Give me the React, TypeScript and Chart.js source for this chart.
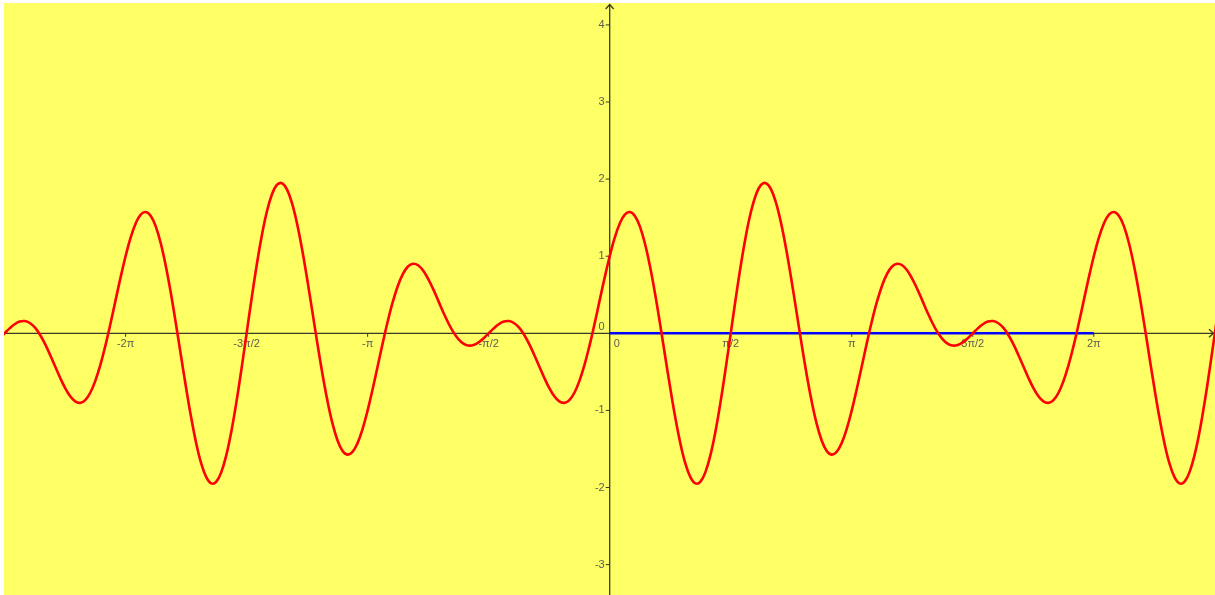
import React, { useEffect, useRef } from "react";
import { Chart, registerables } from "chart.js";

Chart.register(...registerables);

// Sample index of first curve point (x = n * π/48)
const N_START = -121;
// Red curve values at steps of π/48
const curveY: number[] = [
  -0.064,
  0, 0.064, 0.117, 0.152, 0.159, 0.134, 0.076, -0.015, -0.134, -0.274, -0.424, -0.573, -0.707, -0.814, -0.883, -0.902, -0.866, -0.771, -0.617, -0.41, -0.159, 0.124, 0.424, 0.722,

  1, 1.24, 1.424, 1.539, 1.573, 1.522, 1.383, 1.161, 0.866, 0.512, 0.117, -0.297, -0.707, -1.09, -1.424, -1.688, -1.866, -1.947, -1.924, -1.797, -1.573, -1.263, -0.883, -0.454,
  0, 0.454, 0.883, 1.263, 1.573, 1.797, 1.924, 1.947, 1.866, 1.688, 1.424, 1.09, 0.707, 0.297, -0.117, -0.512, -0.866, -1.161, -1.383, -1.522, -1.573, -1.539, -1.424, -1.24,
  -1, -0.722, -0.424, -0.124, 0.159, 0.41, 0.617, 0.771, 0.866, 0.902, 0.883, 0.814, 0.707, 0.573, 0.424, 0.274, 0.134, 0.015, -0.076, -0.134, -0.159, -0.152, -0.117, -0.064,
  0, 0.064, 0.117, 0.152, 0.159, 0.134, 0.076, -0.015, -0.134, -0.274, -0.424, -0.573, -0.707, -0.814, -0.883, -0.902, -0.866, -0.771, -0.617, -0.41, -0.159, 0.124, 0.424, 0.722,

  1, 1.24, 1.424, 1.539, 1.573, 1.522, 1.383, 1.161, 0.866, 0.512, 0.117, -0.297, -0.707, -1.09, -1.424, -1.688, -1.866, -1.947, -1.924, -1.797, -1.573, -1.263, -0.883, -0.454,
  0, 0.454, 0.883, 1.263, 1.573, 1.797, 1.924, 1.947, 1.866, 1.688, 1.424, 1.09, 0.707, 0.297, -0.117, -0.512, -0.866, -1.161, -1.383, -1.522, -1.573, -1.539, -1.424, -1.24,
  -1, -0.722, -0.424, -0.124, 0.159, 0.41, 0.617, 0.771, 0.866, 0.902, 0.883, 0.814, 0.707, 0.573, 0.424, 0.274, 0.134, 0.015, -0.076, -0.134, -0.159, -0.152, -0.117, -0.064,
  0, 0.064, 0.117, 0.152, 0.159, 0.134, 0.076, -0.015, -0.134, -0.274, -0.424, -0.573, -0.707, -0.814, -0.883, -0.902, -0.866, -0.771, -0.617, -0.41, -0.159, 0.124, 0.424, 0.722,

  1, 1.24, 1.424, 1.539, 1.573, 1.522, 1.383, 1.161, 0.866, 0.512, 0.117, -0.297, -0.707, -1.09, -1.424, -1.688, -1.866, -1.947, -1.924, -1.797, -1.573, -1.263, -0.883, -0.454,
  0, 0.454,
];
const curveX: number[] = curveY.map((_, i) => ((N_START + i) * Math.PI) / 48);

// Blue segment on the x-axis
const blueX: number[] = [0, 2 * Math.PI];
const blueY: number[] = [0, 0];

// Axis ticks
const xTickValues: number[] = [-2 * Math.PI, -1.5 * Math.PI, -Math.PI, -0.5 * Math.PI, 0.5 * Math.PI, Math.PI, 1.5 * Math.PI, 2 * Math.PI];
const xTickLabels: string[] = ["-2π", "-3π/2", "-π", "-π/2", "π/2", "π", "3π/2", "2π"];
const yTickValues: number[] = [-3, -2, -1, 1, 2, 3, 4];
const yTickLabels: string[] = ["-3", "-2", "-1", "1", "2", "3", "4"];

const X_MIN = -7.861;
const X_MAX = 7.856;
const Y_MIN = -3.394;
const Y_MAX = 4.284;

const axesPlugin = {
  id: "geoAxes",
  beforeDraw(chart: any) {
    const { ctx, chartArea } = chart;
    ctx.save();
    ctx.fillStyle = "#ffff66";
    ctx.fillRect(chartArea.left, chartArea.top, chartArea.right - chartArea.left, chartArea.bottom - chartArea.top);
    ctx.restore();
  },
  beforeDatasetsDraw(chart: any) {
    const { ctx, chartArea, scales } = chart;
    const xs = scales.x;
    const ys = scales.y;
    const x0 = xs.getPixelForValue(0);
    const y0 = ys.getPixelForValue(0);
    ctx.save();
    ctx.strokeStyle = "#3a3a2a";
    ctx.lineWidth = 1.3;
    // x axis
    ctx.beginPath();
    ctx.moveTo(chartArea.left, y0);
    ctx.lineTo(chartArea.right - 1, y0);
    ctx.stroke();
    ctx.beginPath();
    ctx.moveTo(chartArea.right - 6, y0 - 4);
    ctx.lineTo(chartArea.right - 1.5, y0);
    ctx.lineTo(chartArea.right - 6, y0 + 4);
    ctx.stroke();
    // y axis
    ctx.beginPath();
    ctx.moveTo(x0, chartArea.bottom);
    ctx.lineTo(x0, chartArea.top + 1);
    ctx.stroke();
    ctx.beginPath();
    ctx.moveTo(x0 - 4, chartArea.top + 6);
    ctx.lineTo(x0, chartArea.top + 1.5);
    ctx.lineTo(x0 + 4, chartArea.top + 6);
    ctx.stroke();

    ctx.font = "11px 'Liberation Sans', Arial, sans-serif";
    ctx.fillStyle = "#5c5c50";
    ctx.lineWidth = 1;
    // x ticks
    xTickValues.forEach((v, i) => {
      const px = xs.getPixelForValue(v);
      ctx.beginPath();
      ctx.moveTo(px, y0);
      ctx.lineTo(px, y0 + 3.5);
      ctx.stroke();
      ctx.textAlign = "center";
      ctx.textBaseline = "top";
      ctx.fillText(xTickLabels[i], px, y0 + 5);
    });
    // y ticks
    yTickValues.forEach((v, i) => {
      const py = ys.getPixelForValue(v);
      ctx.beginPath();
      ctx.moveTo(x0 - 4, py);
      ctx.lineTo(x0, py);
      ctx.stroke();
      ctx.textAlign = "right";
      ctx.textBaseline = "middle";
      ctx.fillText(yTickLabels[i], x0 - 5, py);
    });
    // zero labels
    ctx.textAlign = "right";
    ctx.textBaseline = "middle";
    ctx.fillText("0", x0 - 5, y0 - 6);
    ctx.textAlign = "left";
    ctx.textBaseline = "top";
    ctx.fillText("0", x0 + 4, y0 + 5);
    ctx.restore();
  },
};

export default function App() {
  const canvasRef = useRef<HTMLCanvasElement | null>(null);

  useEffect(() => {
    if (!canvasRef.current) return;
    const chart = new Chart(canvasRef.current, {
      type: "line",
      data: {
        datasets: [
          {
            label: "f",
            data: curveX.map((x, i) => ({ x, y: curveY[i] })),
            borderColor: "#ff0000",
            borderWidth: 2.6,
            pointRadius: 0,
            tension: 0.4,
            fill: false,
            order: 0,
          },
          {
            label: "segment",
            data: blueX.map((x, i) => ({ x, y: blueY[i] })),
            borderColor: "#0000ff",
            borderWidth: 2.6,
            pointRadius: 0,
            tension: 0,
            fill: false,
            order: 1,
          },
        ],
      },
      options: {
        animation: false,
        responsive: false,
        devicePixelRatio: 1,
        layout: { padding: 0 },
        plugins: { legend: { display: false }, tooltip: { enabled: false } },
        events: [],
        scales: {
          x: { type: "linear", min: X_MIN, max: X_MAX, display: false },
          y: { type: "linear", min: Y_MIN, max: Y_MAX, display: false },
        },
      },
      plugins: [axesPlugin],
    } as any);
    return () => chart.destroy();
  }, []);

  return (
    <div style={{ position: "fixed", left: 0, top: 0, width: 1215, height: 595, background: "#ffffff", overflow: "hidden" }}>
      <canvas
        ref={canvasRef}
        width={1211}
        height={592}
        style={{ position: "absolute", left: 4, top: 3, width: 1211, height: 592 }}
      />
    </div>
  );
}
